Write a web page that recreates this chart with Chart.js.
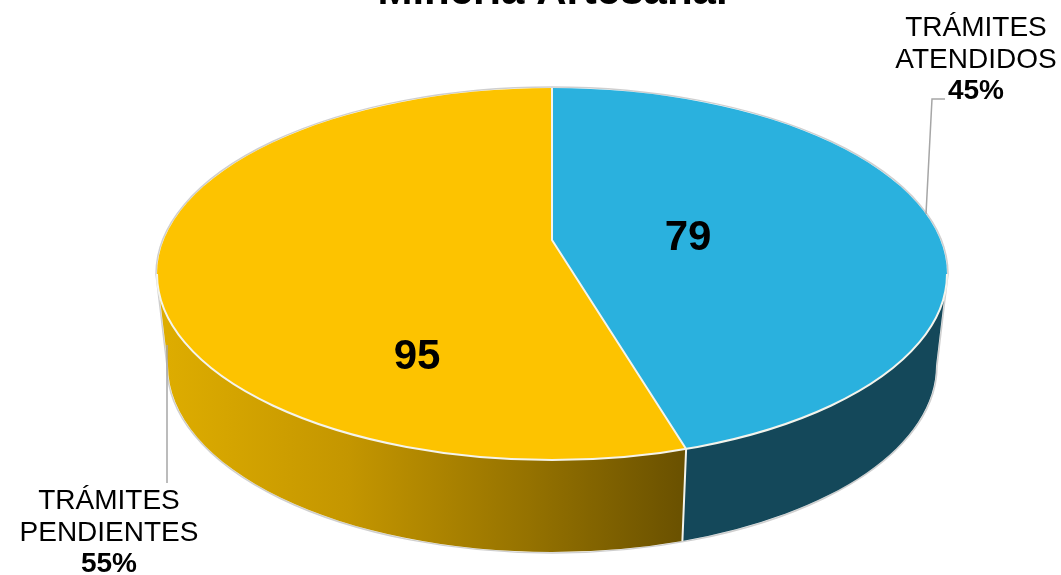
<!DOCTYPE html>
<html>
<head>
<meta charset="utf-8">
<title>Minería Artesanal</title>
<script src="https://cdn.jsdelivr.net/npm/chart.js@4"></script>
<style>
  html, body { margin: 0; background: #fff; }
  #box { width: 1061px; height: 575px; }
</style>
</head>
<body>
<div id="box"><canvas id="myChart"></canvas></div>
<script>
const categories = [["TRÁMITES", "ATENDIDOS"], ["TRÁMITES", "PENDIENTES"]];
const values = [79, 95];
const topColors = ["#2AB1DE", "#FDC300"];
const chartTitle = "Minería Artesanal";

// shape of the tilted pie, in page pixels
const top3d = { cx: 552, cy: 274, rx: 395, ry: 186, apexY: 240, tilt: 0.463 };
const low3d = { cx: 552, cy: 366, rx: 384, ry: 186 };
const FONT = '"Liberation Sans", Arial, sans-serif';

function ellipsePoint(e, t) {
  return { x: e.cx + e.rx * Math.cos(t), y: e.cy + e.ry * Math.sin(t) };
}

// where a slice edge (chart angle) leaves the top ellipse, as an ellipse parameter
function edgeParam(angle) {
  const dx = Math.cos(angle), dy = Math.sin(angle) * top3d.tilt;
  const ox = 0, oy = top3d.apexY - top3d.cy;
  const a = dx * dx / (top3d.rx * top3d.rx) + dy * dy / (top3d.ry * top3d.ry);
  const b = 2 * (ox * dx / (top3d.rx * top3d.rx) + oy * dy / (top3d.ry * top3d.ry));
  const c = oy * oy / (top3d.ry * top3d.ry) - 1;
  const d = (-b + Math.sqrt(b * b - 4 * a * c)) / (2 * a);
  return Math.atan2((oy + dy * d) / top3d.ry, (ox + dx * d) / top3d.rx);
}

function wallPath(ctx, from, to) {
  ctx.beginPath();
  ctx.ellipse(top3d.cx, top3d.cy, top3d.rx, top3d.ry, 0, from, to);
  ctx.ellipse(low3d.cx, low3d.cy, low3d.rx, low3d.ry, 0, to, from, true);
  ctx.closePath();
}

const pie3d = {
  id: "pie3d",
  beforeDatasetsDraw(chart) {
    const ctx = chart.ctx;
    const arcs = chart.getDatasetMeta(0).data;
    const split = edgeParam(arcs[0].endAngle);

    // grey outline round the whole solid
    ctx.strokeStyle = "#CFCFCF";
    ctx.lineWidth = 1.5;
    ctx.beginPath();
    ctx.ellipse(top3d.cx, top3d.cy, top3d.rx + 1, top3d.ry + 1, 0, Math.PI, Math.PI * 2);
    ctx.ellipse(low3d.cx, low3d.cy, low3d.rx + 1, low3d.ry + 1, 0, 0, Math.PI);
    ctx.closePath();
    ctx.stroke();

    // side wall
    wallPath(ctx, 0, split);
    ctx.fillStyle = "#14485A";
    ctx.fill();
    const grad = ctx.createLinearGradient(168, 0, 683, 0);
    grad.addColorStop(0, "#DDAC00");
    grad.addColorStop(0.35, "#C49600");
    grad.addColorStop(0.7, "#957200");
    grad.addColorStop(1, "#6A5100");
    wallPath(ctx, split, Math.PI);
    ctx.fillStyle = grad;
    ctx.fill();

    // the library's arcs, squashed and clipped to the top ellipse
    ctx.save();
    ctx.beginPath();
    ctx.ellipse(top3d.cx, top3d.cy, top3d.rx, top3d.ry, 0, 0, Math.PI * 2);
    ctx.clip();
    const k = 500 / arcs[0].outerRadius;
    ctx.translate(top3d.cx, top3d.apexY);
    ctx.scale(k, k * top3d.tilt);
    ctx.translate(-arcs[0].x, -arcs[0].y);
  },
  afterDatasetsDraw(chart) {
    const ctx = chart.ctx;
    ctx.restore();
    const arcs = chart.getDatasetMeta(0).data;
    const split = edgeParam(arcs[0].endAngle);
    const a = ellipsePoint(top3d, split);
    const b = ellipsePoint(low3d, split);

    // white edges
    ctx.strokeStyle = "#F4F4EC";
    ctx.lineWidth = 2;
    ctx.beginPath();
    ctx.ellipse(top3d.cx, top3d.cy, top3d.rx, top3d.ry, 0, 0, Math.PI);
    ctx.stroke();
    ctx.beginPath();
    ctx.moveTo(top3d.cx, top3d.cy - top3d.ry);
    ctx.lineTo(top3d.cx, top3d.apexY);
    ctx.lineTo(a.x, a.y);
    ctx.lineTo(b.x, b.y);
    ctx.stroke();

    // leader lines
    ctx.strokeStyle = "#A6A6A6";
    ctx.lineWidth = 1.5;
    ctx.beginPath();
    ctx.moveTo(945, 99);
    ctx.lineTo(932, 99);
    ctx.lineTo(926, 214);
    ctx.moveTo(167, 345);
    ctx.lineTo(167, 483);
    ctx.stroke();

    // texts
    const total = values.reduce((s, v) => s + v, 0);
    const spots = [
      { x: 976, y: 28, vx: 688, vy: 238 },
      { x: 109, y: 501, vx: 417, vy: 357 }
    ];
    ctx.fillStyle = "#000";
    ctx.textAlign = "center";
    ctx.textBaseline = "middle";
    values.forEach((v, i) => {
      const s = spots[i];
      ctx.font = "28px " + FONT;
      ctx.fillText(categories[i][0], s.x, s.y);
      ctx.fillText(categories[i][1], s.x, s.y + 32);
      ctx.font = "bold 28px " + FONT;
      ctx.fillText(Math.round(v / total * 100) + "%", s.x, s.y + 63);
      ctx.font = "bold 42px " + FONT;
      ctx.fillText(String(v), s.vx, s.vy);
    });
  }
};

const config = {
  type: "pie",
  data: {
    labels: categories,
    datasets: [{ data: values, backgroundColor: topColors, borderWidth: 0 }]
  },
  options: {
    responsive: true,
    maintainAspectRatio: false,
    animation: false,
    layout: { padding: { left: 44 } },
    plugins: {
      legend: { display: false },
      tooltip: { enabled: false },
      title: {
        display: true,
        text: chartTitle,
        fullSize: false,
        color: "#000",
        font: { family: FONT, size: 42, weight: "bold" },
        padding: { top: -33, bottom: 0 }
      }
    }
  },
  plugins: [pie3d]
};

const pieChart = new Chart(document.getElementById("myChart"), config);
</script>
</body>
</html>
